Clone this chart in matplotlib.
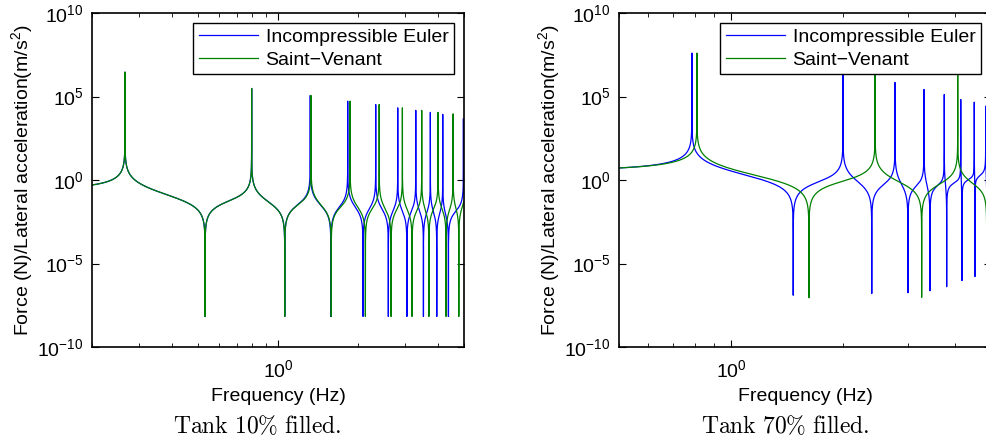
import numpy as np
import matplotlib
matplotlib.use("Agg")
import matplotlib.pyplot as plt
from matplotlib.ticker import LogLocator, NullFormatter, NullLocator

plt.rcParams['font.family'] = ['Liberation Sans', 'DejaVu Sans']
plt.rcParams['mathtext.default'] = 'regular'
plt.rcParams['font.size'] = 14

# ---- Tank 10% filled (frequencies in Hz, levels as log10 of the curve)
t10_start_lvl = -0.3
t10_euler_peaks = [0.266, 0.796, 1.322, 1.828, 2.329, 2.818, 3.294, 3.737, 4.16, 4.975, 5.6]
t10_euler_peak_lvl = [6.46, 5.48, 5.06, 4.72, 4.52, 4.32, 4.17, 4.05, 3.93, 3.67, 3.5]
t10_euler_dips = [0.532, 1.06, 1.58, 2.087, 2.598, 3.05, 3.52, 3.95, 4.37, 5.2]
t10_euler_dip_lvl = [-8.17] * 10
t10_sv_peaks = [0.266, 0.796, 1.33, 1.865, 2.40, 2.934, 3.468, 3.995, 4.55, 5.1]
t10_sv_peak_lvl = [6.46, 5.48, 5.06, 4.72, 4.52, 4.32, 4.17, 4.05, 3.96, 3.8]
t10_sv_dips = [0.532, 1.06, 1.585, 2.13, 2.66, 3.19, 3.69, 4.28, 4.78]
t10_sv_dip_lvl = [-8.17] * 9

# ---- Tank 70% filled
t70_start_lvl = 0.72
t70_euler_peaks = [0.785, 2.0, 2.76, 3.303, 3.744, 4.146, 4.508, 4.838, 5.15]
t70_euler_peak_lvl = [7.6, 7.0, 5.84, 5.42, 5.12, 4.82, 4.66, 4.42, 4.3]
t70_euler_dips = [1.47, 2.39, 2.99, 3.427, 3.80, 4.178, 4.529, 4.87]
t70_euler_dip_lvl = [-6.9, -6.8, -6.75, -6.63, -6.39, -6.02, -5.78, -5.6]
t70_sv_peaks = [0.81, 2.44, 4.069, 5.6]
t70_sv_peak_lvl = [7.6, 7.0, 7.0, 6.0]
t70_sv_dips = [1.62, 3.255, 4.868]
t70_sv_dip_lvl = [-7.05, -7.03, -7.03]


def response(fmin, fmax, peaks, peak_lvl, dips, dip_lvl, start_lvl):
    f = np.logspace(np.log10(fmin), np.log10(fmax), 20000)
    f = np.unique(np.concatenate([f, peaks, dips]))
    f = f[(f >= fmin) & (f <= fmax)]
    p = np.array(peaks)[:, None]
    z = np.array(dips)[:, None]
    with np.errstate(divide='ignore'):
        lg = (np.log10(np.abs(1 - f**2 / z**2)).sum(axis=0)
              - np.log10(np.abs(1 - f**2 / p**2)).sum(axis=0))
    lg = lg + start_lvl - lg[0]
    # spikes are cut at the heights
    s = np.concatenate([peaks, dips])
    upper = np.concatenate([peak_lvl, np.full(len(dips), np.inf)])
    lower = np.concatenate([np.full(len(peaks), -np.inf), dip_lvl])
    idx = np.argmin(np.abs(np.log10(f)[None, :] - np.log10(s)[:, None]), axis=0)
    lg = np.clip(lg, lower[idx], upper[idx])
    return f, 10**lg


fig = plt.figure(figsize=(9.87, 4.45), dpi=100)
ax1 = fig.add_axes([92/987, 1-347/445, 372/987, 334/445])
ax2 = fig.add_axes([619/987, 1-347/445, 372/987, 334/445])

panels = [
    (ax1, 0.2, 5.0, t10_start_lvl,
     (t10_euler_peaks, t10_euler_peak_lvl, t10_euler_dips, t10_euler_dip_lvl),
     (t10_sv_peaks, t10_sv_peak_lvl, t10_sv_dips, t10_sv_dip_lvl)),
    (ax2, 0.5, 5.0, t70_start_lvl,
     (t70_euler_peaks, t70_euler_peak_lvl, t70_euler_dips, t70_euler_dip_lvl),
     (t70_sv_peaks, t70_sv_peak_lvl, t70_sv_dips, t70_sv_dip_lvl)),
]

for ax, fmin, fmax, start, eu, sv in panels:
    f, h = response(fmin, fmax, *eu, start)
    ax.plot(f, h, color='#0000ff', lw=0.9, label='Incompressible Euler')
    f, h = response(fmin, fmax, *sv, start)
    ax.plot(f, h, color='#008000', lw=0.9, label='Saint\u2212Venant')
    ax.set_xscale('log')
    ax.set_yscale('log')
    ax.set_xlim(fmin, fmax)
    ax.set_ylim(1e-10, 1e10)
    ax.set_yticks([1e-10, 1e-5, 1e0, 1e5, 1e10])
    ax.yaxis.set_minor_locator(NullLocator())
    ax.xaxis.set_major_locator(LogLocator(base=10, numticks=10))
    ax.xaxis.set_minor_locator(LogLocator(base=10, subs=np.arange(2, 10), numticks=20))
    ax.xaxis.set_minor_formatter(NullFormatter())
    ax.tick_params(which='both', direction='in', top=True, right=True, labelsize=14)
    ax.tick_params(which='major', length=5, pad=6)
    ax.tick_params(axis='x', which='major', pad=9)
    ax.tick_params(which='minor', length=3)
    for sp in ax.spines.values():
        sp.set_linewidth(1.2)
    ax.set_xlabel('Frequency (Hz)', labelpad=5)
    ax.set_ylabel('Force (N)/Lateral acceleration(m/s$^2$)')
    ax.yaxis.set_label_coords(-0.152, 0.5)
    leg = ax.legend(loc='upper right', fancybox=False, framealpha=1,
                    edgecolor='black', handlelength=3.05, borderaxespad=0.5,
                    labelspacing=0.25, borderpad=0.3, handletextpad=0.37)
    leg.get_frame().set_linewidth(1.0)

fig.text(257/987, 1-426/445, r'$\mathrm{Tank\ 10\%\ filled.}$', math_fontfamily='cm',
         ha='center', va='center', fontsize=17)
fig.text(785/987, 1-426/445, r'$\mathrm{Tank\ 70\%\ filled.}$', math_fontfamily='cm',
         ha='center', va='center', fontsize=17)

fig.savefig('out.png', dpi=100)
